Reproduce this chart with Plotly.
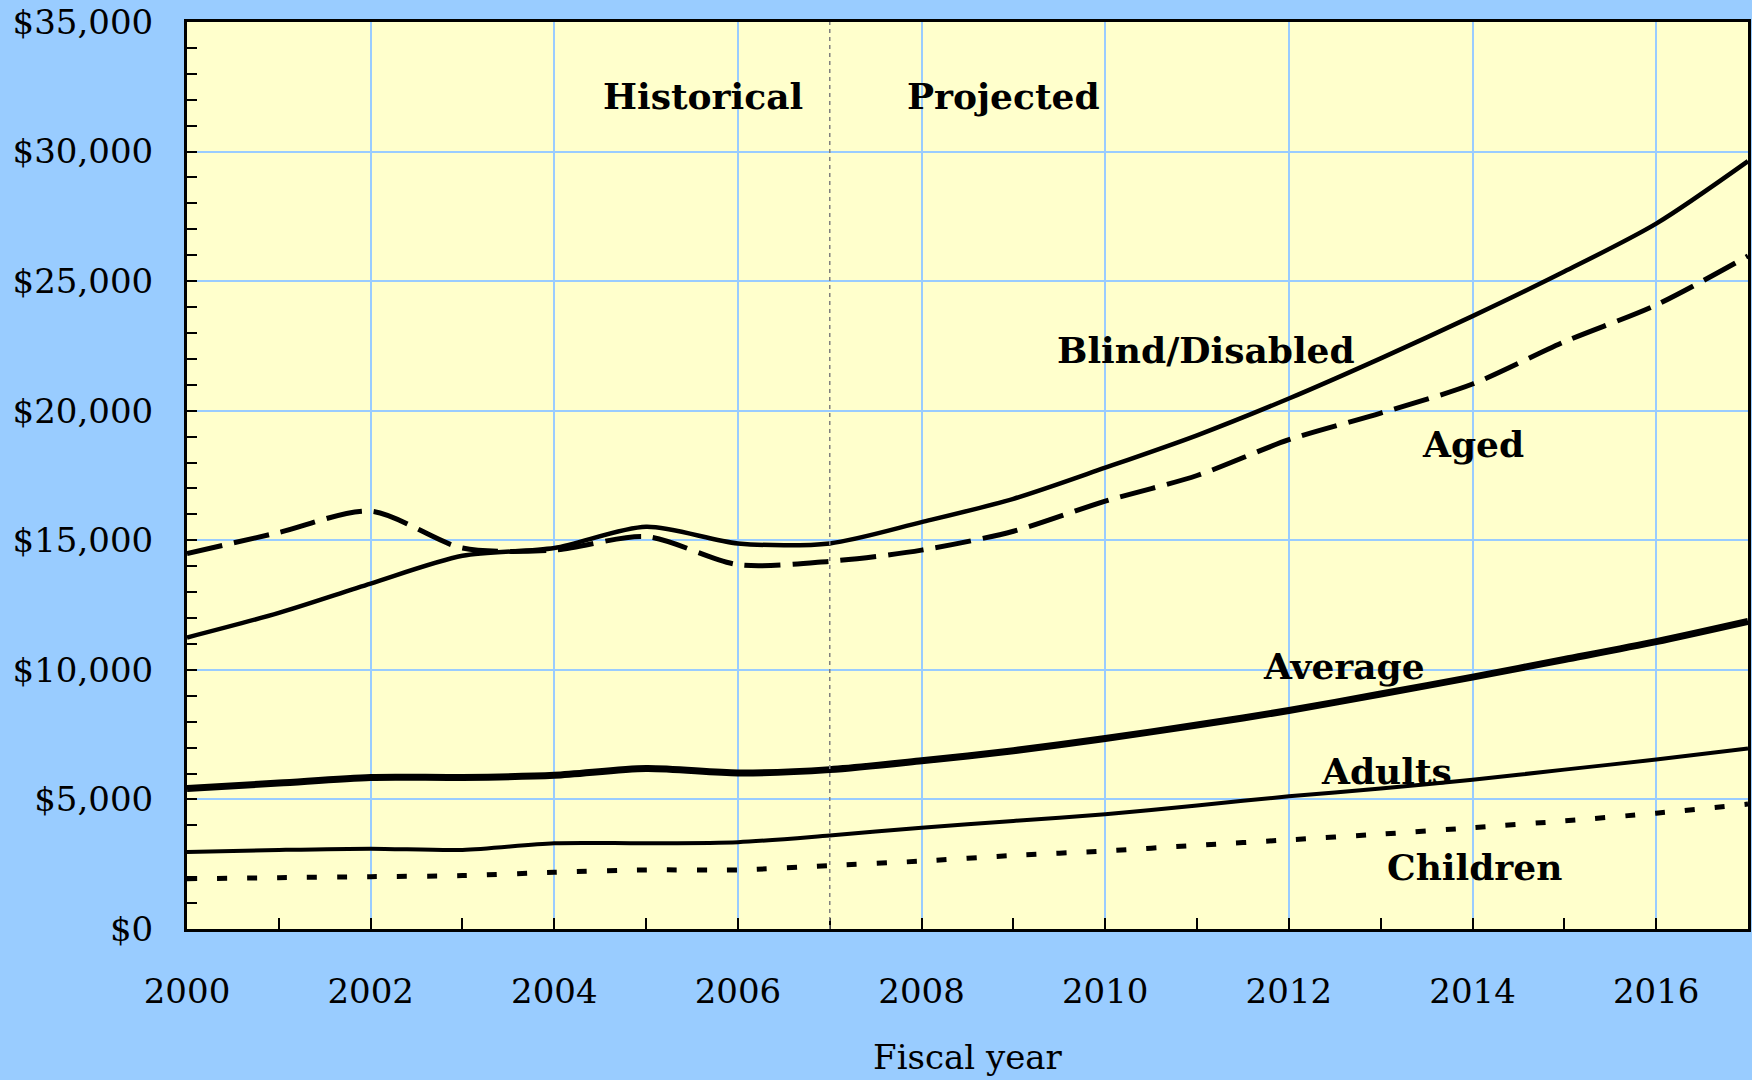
import plotly.graph_objects as go

years = list(range(2000, 2018))
blind_disabled = [11250, 12200, 13330, 14400, 14700, 15520, 14880, 14880, 15700, 16600,
                  17800, 19050, 20470, 22020, 23650, 25370, 27220, 29630]
aged = [14490, 15300, 16125, 14700, 14620, 15140, 14060, 14190, 14620, 15350,
        16510, 17500, 18880, 19910, 21030, 22660, 24080, 25970]
average = [5420, 5630, 5850, 5850, 5930, 6190, 6020, 6150, 6490, 6880,
           7350, 7870, 8430, 9070, 9720, 10400, 11090, 11870]
adults = [2970, 3050, 3100, 3050, 3310, 3310, 3350, 3610, 3910, 4170,
          4430, 4770, 5120, 5420, 5760, 6150, 6540, 6970]
children = [1940, 1980, 2020, 2060, 2190, 2280, 2280, 2450, 2620, 2840,
            3010, 3230, 3440, 3660, 3910, 4170, 4470, 4820]

series = [
    ("Blind/Disabled", blind_disabled, 4.5, "solid"),
    ("Aged", aged, 5, "36px,12px"),
    ("Average", average, 7, "solid"),
    ("Adults", adults, 4, "solid"),
    ("Children", children, 5, "10px,20px"),
]

labels = [
    ("Historical", 2005.62, 32150),
    ("Projected", 2008.89, 32150),
    ("Blind/Disabled", 2011.1, 22360),
    ("Aged", 2014.0, 18700),
    ("Average", 2012.6, 10150),
    ("Adults", 2013.06, 6100),
    ("Children", 2014.02, 2400),
]

FONT = "DejaVu Serif"
fig = go.Figure()
for name, vals, w, dash in series:
    fig.add_trace(go.Scatter(x=years, y=vals, mode="lines", name=name,
                             line=dict(color="black", width=w, dash=dash, shape="spline", smoothing=0.8),
                             showlegend=False))

fig.add_shape(type="line", x0=2007, x1=2007, y0=0, y1=1, yref="paper",
              line=dict(color="#808080", width=1.5, dash="4px,4px"))

for text, x, y in labels:
    fig.add_annotation(x=x, y=y, text="<b>%s</b>" % text, showarrow=False,
                       font=dict(family=FONT, size=36, color="black"))

fig.update_layout(
    width=1752, height=1080,
    paper_bgcolor="#99ccff", plot_bgcolor="#ffffcc",
    margin=dict(l=187, r=1, t=22, b=151),
    font=dict(family=FONT, size=34, color="black"),
)
fig.update_xaxes(range=[2000, 2017], tick0=2000, dtick=2, showgrid=True, gridcolor="#99ccff", gridwidth=2,
                 ticks="inside", ticklen=11, tickwidth=2, tickcolor="black",
                 minor=dict(dtick=1, ticks="inside", ticklen=11, tickwidth=2, tickcolor="black", showgrid=False),
                 showline=True, linecolor="black", linewidth=3, mirror=True,
                 ticklabelstandoff=30, zeroline=False,
                 title=dict(text="Fiscal year", standoff=36, font=dict(size=34)))
fig.update_yaxes(range=[0, 35000], tick0=0, dtick=5000, showgrid=True, gridcolor="#99ccff", gridwidth=2,
                 ticks="inside", ticklen=10, tickwidth=2, tickcolor="black",
                 minor=dict(dtick=1000, ticks="inside", ticklen=10, tickwidth=2, tickcolor="black", showgrid=False),
                 showline=True, linecolor="black", linewidth=3, mirror=True,
                 tickprefix="$", tickformat=",d", ticklabelstandoff=24, zeroline=False)

fig.write_html("out.html", config={"displayModeBar": False},
               post_script="document.body.style.margin='0';document.body.style.overflow='hidden';")
